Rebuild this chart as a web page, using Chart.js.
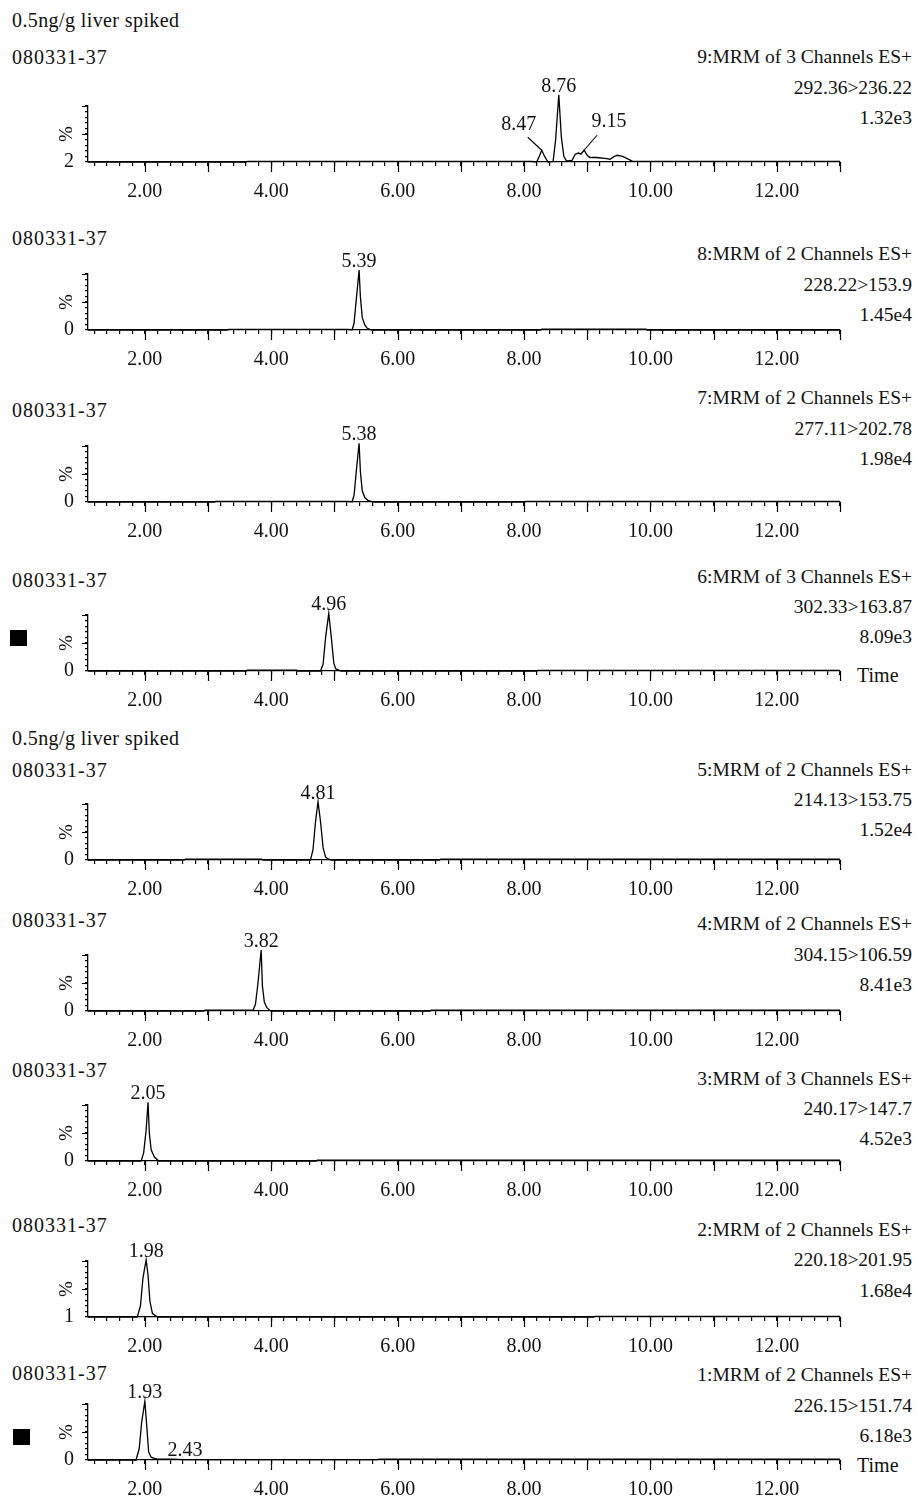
<!DOCTYPE html>
<html>
<head>
<meta charset="utf-8">
<script src="https://cdn.jsdelivr.net/npm/chart.js@4.4.1/dist/chart.umd.min.js"></script>
<style>
body { margin: 0; background: #fff; width: 918px; height: 1496px; position: relative; overflow: hidden;
       font-family: 'Liberation Serif', 'DejaVu Serif', serif; color: #111; }
.t { position: absolute; font-size: 20px; line-height: 20px; white-space: nowrap; }
.r { right: 6px; text-align: right; font-size: 19.5px; }
.id { letter-spacing: 1px; }
.ttl { letter-spacing: 0.4px; }
canvas { position: absolute; left: 0; }
.sq { position: absolute; background: #000; width: 17px; height: 16px; }
</style>
</head>
<body>
<script>
// retention time axis
var xMin = 1.1, xMax = 13;
var xTickValues = [2, 4, 6, 8, 10, 12];
var xTickLabels = ['2.00', '4.00', '6.00', '8.00', '10.00', '12.00'];

var sampleName = '0.5ng/g liver spiked';
var sampleIds = ['080331-37', '080331-37', '080331-37', '080331-37', '080331-37',
                 '080331-37', '080331-37', '080331-37', '080331-37'];
var channelNames = ['9:MRM of 3 Channels ES+', '8:MRM of 2 Channels ES+', '7:MRM of 2 Channels ES+',
                    '6:MRM of 3 Channels ES+', '5:MRM of 2 Channels ES+', '4:MRM of 2 Channels ES+',
                    '3:MRM of 3 Channels ES+', '2:MRM of 2 Channels ES+', '1:MRM of 2 Channels ES+'];
var transitions = ['292.36>236.22', '228.22>153.9', '277.11>202.78', '302.33>163.87', '214.13>153.75',
                   '304.15>106.59', '240.17>147.7', '220.18>201.95', '226.15>151.74'];
var intensities = ['1.32e3', '1.45e4', '1.98e4', '8.09e3', '1.52e4', '8.41e3', '4.52e3', '1.68e4', '6.18e3'];
var yMinLabels = ['2', '0', '0', '0', '0', '0', '0', '1', '0'];

// traces [time, %]
var trace9 = [[1.1,0],[3.6,0],[3.62,1.2],[8.12,1.2],[8.2,0],[8.24,10],[8.28,21],[8.33,9],[8.38,0],
  [8.46,1],[8.5,40],[8.55,120],[8.59,45],[8.63,10],[8.67,2],[8.76,3],[8.81,14],[8.86,16],[8.9,14],
  [8.95,21],[9.0,12],[9.04,8],[9.15,8],[9.31,6],[9.36,5],[9.43,10],[9.48,12],[9.56,10],[9.72,1.2],[13,1.2]];
var trace8 = [[1.1,0],[3.3,0],[3.32,1.2],[5.2,1.2],[5.28,0.5],[5.31,12],[5.35,60],[5.39,107],[5.41,60],
  [5.44,22],[5.48,9],[5.52,3],[5.56,1],[5.6,0],[8.26,0],[8.28,1.5],[9.93,1.5],[9.95,0],[13,0]];
var trace7 = [[1.1,0],[3.1,0],[3.12,1.2],[5.2,1.2],[5.28,0.5],[5.31,12],[5.35,60],[5.39,105],[5.41,55],
  [5.44,20],[5.48,8],[5.53,3],[5.58,1],[5.62,0],[8.0,0],[8.02,1.2],[13,1.2]];
var trace6 = [[1.1,0],[3.6,0],[3.62,1.5],[4.4,1.5],[4.42,0],[4.78,0],[4.82,12],[4.86,60],[4.91,103],
  [4.95,60],[4.99,14],[5.02,4],[5.06,2],[5.1,0],[8.2,0],[8.22,1],[13,1]];
var trace5 = [[1.1,0],[2.62,0],[2.64,1.5],[3.85,1.5],[3.87,0],[4.62,0],[4.66,18],[4.7,68],[4.74,104],
  [4.78,68],[4.82,22],[4.86,5],[4.9,2],[4.95,0],[6.66,0],[6.68,1.5],[13,1.5]];
var trace4 = [[1.1,0],[2.93,0],[2.95,1.5],[3.68,1.5],[3.71,1],[3.75,12],[3.79,50],[3.84,109],[3.86,45],
  [3.89,16],[3.93,6],[3.98,1],[4.0,0],[6.51,0],[6.53,1.5],[13,1.5]];
var trace3 = [[1.1,0],[1.94,0],[1.98,14],[2.02,55],[2.05,105],[2.07,50],[2.1,20],[2.15,7],[2.22,0],
  [4.71,0],[4.73,1.3],[13,1.3]];
var trace2 = [[1.1,0],[1.88,0],[1.93,20],[1.97,70],[2.02,102],[2.05,75],[2.08,28],[2.12,6],[2.2,0],
  [9.1,0],[9.12,1],[13,1]];
var trace1 = [[1.1,0],[1.86,0],[1.91,20],[1.95,68],[2.0,105],[2.03,60],[2.06,14],[2.1,5],[2.15,3],
  [2.2,1.5],[2.45,1.5],[2.6,0.5],[5.68,0.5],[5.7,1.5],[13,1.5]];
var traces = [trace9, trace8, trace7, trace6, trace5, trace4, trace3, trace2, trace1];

// peak annotations: position on the trace + printed retention time
var peaks9 = [{ t: 8.28, v: 21, text: '8.47' }, { t: 8.55, v: 120, text: '8.76' }, { t: 8.95, v: 21, text: '9.15' }];
var peaks8 = [{ t: 5.39, v: 107, text: '5.39' }];
var peaks7 = [{ t: 5.39, v: 105, text: '5.38' }];
var peaks6 = [{ t: 4.91, v: 103, text: '4.96' }];
var peaks5 = [{ t: 4.74, v: 104, text: '4.81' }];
var peaks4 = [{ t: 3.84, v: 109, text: '3.82' }];
var peaks3 = [{ t: 2.05, v: 105, text: '2.05' }];
var peaks2 = [{ t: 2.02, v: 102, text: '1.98' }];
var peaks1 = [{ t: 2.0, v: 105, text: '1.93' }, { t: 2.43, v: 1.5, text: '2.43' }];
var peaks = [peaks9, peaks8, peaks7, peaks6, peaks5, peaks4, peaks3, peaks2, peaks1];

// ---- layout (pixels) ----
var baselines = [162, 330, 502, 671, 860, 1011, 1161, 1317, 1460];
var idY = [57, 238, 410, 580, 770, 920, 1070, 1225, 1373];
var rightY = [[57, 88, 118], [254, 285, 315], [398, 429, 459], [577, 607, 637], [770, 800, 830],
              [924, 955, 985], [1079, 1109, 1139], [1230, 1260, 1291], [1375, 1406, 1436]];
var labelOffsets = {
  '0-0': { dx: -23, dy: -27, lx: -14, ly: -13 },
  '0-2': { dx: 25, dy: -30, lx: 13, ly: -15 },
  '8-1': { dx: 13, dy: -10 }
};
var PAD_TOP = 40, PLOT_H = 56, AXIS_H = 40;
var FONT = "'Liberation Serif', 'DejaVu Serif', serif";

function addText(txt, x, cy, cls) {
  var d = document.createElement('div');
  d.className = 't ' + (cls || '');
  d.textContent = txt;
  d.style.top = (cy - 10) + 'px';
  if (cls !== 'r') d.style.left = x + 'px';
  document.body.appendChild(d);
}

addText(sampleName, 12, 20, 'ttl');
addText(sampleName, 12, 738, 'ttl');
addText('Time', 857, 675);
addText('Time', 857, 1465);
[[10, 630], [13, 1429]].forEach(function (p) {
  var s = document.createElement('div');
  s.className = 'sq';
  s.style.left = p[0] + 'px';
  s.style.top = p[1] + 'px';
  document.body.appendChild(s);
});

var axisExtras = {
  id: 'axisExtras',
  afterDraw: function (chart) {
    var ctx = chart.ctx, xs = chart.scales.x, ys = chart.scales.y, a = chart.chartArea;
    var idx = chart.options.panelIndex;
    ctx.save();
    ctx.strokeStyle = '#000';
    ctx.lineWidth = 1.2;
    ctx.beginPath();
    for (var v = 2; v <= 13; v++) {
      var x = Math.round(xs.getPixelForValue(v)) + 0.5;
      ctx.moveTo(x, a.bottom);
      ctx.lineTo(x, a.bottom + 10);
    }
    [50, 100].forEach(function (v) {
      var y = Math.round(ys.getPixelForValue(v)) + 0.5;
      ctx.moveTo(a.left - 6, y);
      ctx.lineTo(a.left, y);
    });
    ctx.stroke();

    // "%" axis title
    ctx.fillStyle = '#111';
    ctx.font = '19px ' + FONT;
    ctx.textAlign = 'center';
    ctx.textBaseline = 'middle';
    ctx.translate(a.left - 21, (a.top + a.bottom) / 2);
    ctx.rotate(-Math.PI / 2);
    ctx.fillText('%', 0, 0);
    ctx.restore();

    // peak labels
    ctx.save();
    ctx.fillStyle = '#111';
    ctx.strokeStyle = '#000';
    ctx.lineWidth = 1.1;
    ctx.font = '20px ' + FONT;
    ctx.textAlign = 'center';
    ctx.textBaseline = 'alphabetic';
    peaks[idx].forEach(function (p, j) {
      var px = xs.getPixelForValue(p.t), py = ys.getPixelForValue(p.v);
      var o = labelOffsets[idx + '-' + j] || { dx: 0, dy: -10 };
      ctx.fillText(p.text, px + o.dx, py + o.dy + 7);
      if (o.lx !== undefined) {
        ctx.beginPath();
        ctx.moveTo(px, py);
        ctx.lineTo(px + o.lx, py + o.ly);
        ctx.stroke();
      }
    });
    ctx.restore();
  }
};

traces.forEach(function (tr, i) {
  addText(sampleIds[i], 12, idY[i], 'id');
  addText(channelNames[i], 0, rightY[i][0], 'r');
  addText(transitions[i], 0, rightY[i][1], 'r');
  addText(intensities[i], 0, rightY[i][2], 'r');

  var cv = document.createElement('canvas');
  cv.width = 918;
  cv.height = PAD_TOP + PLOT_H + AXIS_H;
  cv.style.top = (baselines[i] - PLOT_H - PAD_TOP) + 'px';
  document.body.appendChild(cv);

  new Chart(cv.getContext('2d'), {
    type: 'line',
    data: {
      datasets: [{
        data: tr.map(function (p) { return { x: p[0], y: p[1] }; }),
        borderColor: '#000',
        borderWidth: 1.3,
        pointRadius: 0,
        tension: 0,
        clip: false
      }]
    },
    options: {
      panelIndex: i,
      responsive: false,
      animation: false,
      devicePixelRatio: 1,
      layout: { padding: { top: PAD_TOP, left: 28, right: 78, bottom: 0 } },
      plugins: { legend: { display: false }, tooltip: { enabled: false } },
      scales: {
        x: {
          type: 'linear', min: xMin, max: xMax,
          border: { color: '#000', width: 1.3 },
          grid: { drawOnChartArea: false, tickLength: 4, color: '#000', lineWidth: 1.2 },
          afterBuildTicks: function (scale) {
            var t = [];
            for (var k = 6; k <= 65; k++) t.push({ value: k / 5 });
            scale.ticks = t;
          },
          afterFit: function (scale) { scale.height = AXIS_H; },
          ticks: {
            autoSkip: false, maxRotation: 0, padding: 14, color: '#111',
            font: { family: FONT, size: 20 },
            callback: function (v) {
              for (var k = 0; k < xTickValues.length; k++) {
                if (Math.abs(v - xTickValues[k]) < 1e-6) return xTickLabels[k];
              }
              return '';
            }
          }
        },
        y: {
          min: 0, max: 100,
          border: { color: '#000', width: 1.3 },
          grid: { drawOnChartArea: false, tickLength: 3, color: '#000', lineWidth: 1.2 },
          afterFit: function (scale) { scale.width = 60; },
          ticks: {
            stepSize: 10, autoSkip: false, padding: 11, color: '#111',
            font: { family: FONT, size: 20 },
            callback: function (v) { return v === 0 ? yMinLabels[i] : ''; }
          }
        }
      }
    },
    plugins: [axisExtras]
  });
});
</script>
</body>
</html>
